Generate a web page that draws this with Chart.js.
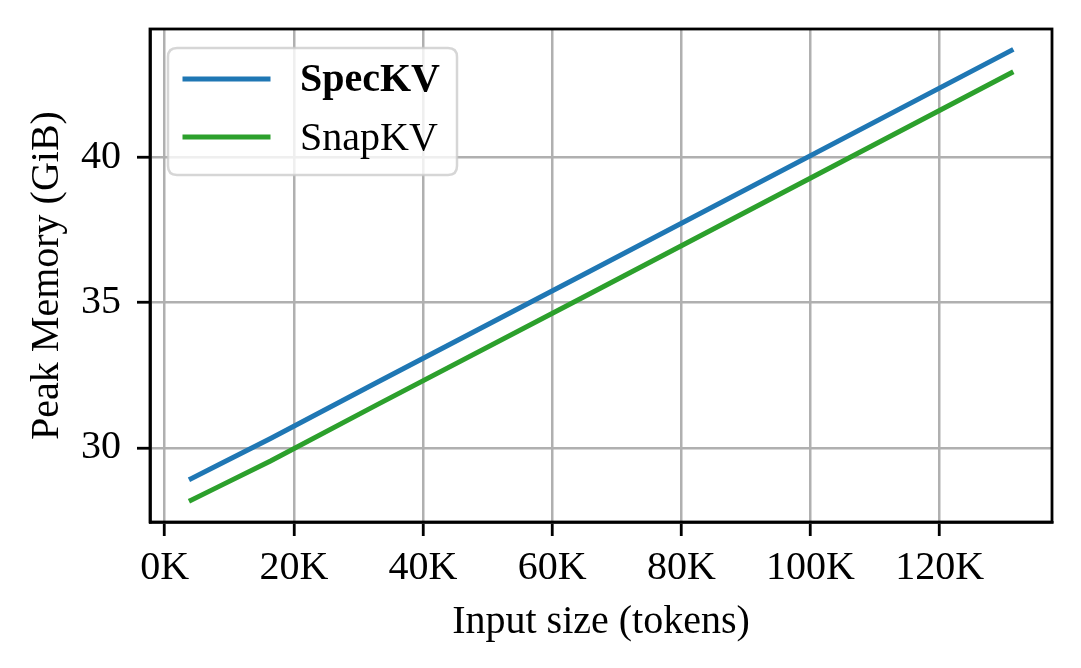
<!DOCTYPE html>
<html>
<head>
<meta charset="utf-8">
<script src="https://cdn.jsdelivr.net/npm/chart.js@4/dist/chart.umd.min.js"></script>
<style>
html,body{margin:0;padding:0;background:#fff;}
#wrap{width:1081px;height:668px;position:relative;}
</style>
</head>
<body>
<div id="wrap"><canvas id="c" width="1081" height="668"></canvas></div>
<script>
// Data
const inputTokens = [4096, 8192, 16384, 32768, 65536, 131072];
const specKV = [28.94, 29.40, 30.32, 32.24, 36.04, 43.67];
const snapKV = [28.20, 28.65, 29.55, 31.47, 35.27, 42.90];
const seriesNames = ['SpecKV', 'SnapKV'];
const xTickValues = [0, 20000, 40000, 60000, 80000, 100000, 120000];
const xTickLabels = ['0K', '20K', '40K', '60K', '80K', '100K', '120K'];
const yTickValues = [30, 35, 40];
const yTickLabels = ['30', '35', '40'];

const FONT = "'Liberation Serif','Times New Roman',serif";
const FS = 40;

const frameAndLegend = {
  id: 'frameAndLegend',
  afterDraw(chart) {
    const ctx = chart.ctx;
    const a = chart.chartArea;
    ctx.save();
    // frame
    ctx.strokeStyle = '#000';
    ctx.lineWidth = 2.8;
    ctx.strokeRect(a.left, a.top, a.right - a.left, a.bottom - a.top);
    // legend
    const bx = 168, by = 48, bw = 289, bh = 127, r = 9;
    ctx.beginPath();
    ctx.moveTo(bx + r, by);
    ctx.lineTo(bx + bw - r, by);
    ctx.quadraticCurveTo(bx + bw, by, bx + bw, by + r);
    ctx.lineTo(bx + bw, by + bh - r);
    ctx.quadraticCurveTo(bx + bw, by + bh, bx + bw - r, by + bh);
    ctx.lineTo(bx + r, by + bh);
    ctx.quadraticCurveTo(bx, by + bh, bx, by + bh - r);
    ctx.lineTo(bx, by + r);
    ctx.quadraticCurveTo(bx, by, bx + r, by);
    ctx.closePath();
    ctx.fillStyle = 'rgba(255,255,255,0.8)';
    ctx.fill();
    ctx.strokeStyle = 'rgba(204,204,204,0.8)';
    ctx.lineWidth = 2.5;
    ctx.stroke();
    const rows = [79, 137];
    chart.data.datasets.forEach((ds, i) => {
      const y = rows[i];
      ctx.strokeStyle = ds.borderColor;
      ctx.lineWidth = 5;
      ctx.lineCap = 'square';
      ctx.beginPath();
      ctx.moveTo(185, y);
      ctx.lineTo(268, y);
      ctx.stroke();
      ctx.fillStyle = '#000';
      ctx.font = (i === 0 ? 'bold ' : '') + FS + 'px ' + FONT;
      ctx.textAlign = 'left';
      ctx.textBaseline = 'middle';
      ctx.fillText(ds.label, 300, y + 2);
    });
    ctx.restore();
  }
};

new Chart(document.getElementById('c'), {
  type: 'line',
  data: {
    datasets: [
      {
        label: seriesNames[0],
        data: inputTokens.map((x, i) => ({x: x, y: specKV[i]})),
        borderColor: '#1f77b4',
        borderWidth: 5,
        borderCapStyle: 'square',
        pointRadius: 0,
        tension: 0,
        fill: false
      },
      {
        label: seriesNames[1],
        data: inputTokens.map((x, i) => ({x: x, y: snapKV[i]})),
        borderColor: '#2ca02c',
        borderWidth: 5,
        borderCapStyle: 'square',
        pointRadius: 0,
        tension: 0,
        fill: false
      }
    ]
  },
  options: {
    responsive: false,
    animation: false,
    devicePixelRatio: 1,
    layout: {padding: {left: 0, right: 29, top: 29, bottom: 0}},
    plugins: {legend: {display: false}, tooltip: {enabled: false}},
    scales: {
      x: {
        type: 'linear',
        min: -2280,
        max: 137400,
        afterBuildTicks(s) { s.ticks = xTickValues.map(v => ({value: v})); },
        afterFit(s) { s.height = 146; s.paddingLeft = 0; s.paddingRight = 0; },
        ticks: {
          autoSkip: false,
          maxRotation: 0,
          color: '#000',
          font: {family: FONT, size: FS},
          padding: 8,
          callback(v) { const i = xTickValues.indexOf(v); return i >= 0 ? xTickLabels[i] : ''; }
        },
        grid: {color: '#b0b0b0', lineWidth: 2.5, tickColor: '#000', tickLength: 14, tickWidth: 2.8},
        border: {color: '#000', width: 2.8},
        title: {display: true, text: 'Input size (tokens)', color: '#000', font: {family: FONT, size: FS, lineHeight: 1.2}, padding: {top: 0, bottom: 22}}
      },
      y: {
        min: 27.45,
        max: 44.41,
        afterBuildTicks(s) { s.ticks = yTickValues.map(v => ({value: v})); },
        afterFit(s) { s.width = 150; s.paddingTop = 0; s.paddingBottom = 0; },
        ticks: {
          color: '#000',
          font: {family: FONT, size: FS},
          padding: 16,
          callback(v) { const i = yTickValues.indexOf(v); return i >= 0 ? yTickLabels[i] : ''; }
        },
        grid: {color: '#b0b0b0', lineWidth: 2.5, tickColor: '#000', tickLength: 13, tickWidth: 2.8},
        border: {color: '#000', width: 2.8},
        title: {display: true, text: 'Peak Memory (GiB)', color: '#000', font: {family: FONT, size: FS, lineHeight: 1.2}, padding: {top: 23, bottom: 0}}
      }
    }
  },
  plugins: [frameAndLegend]
});
</script>
</body>
</html>
